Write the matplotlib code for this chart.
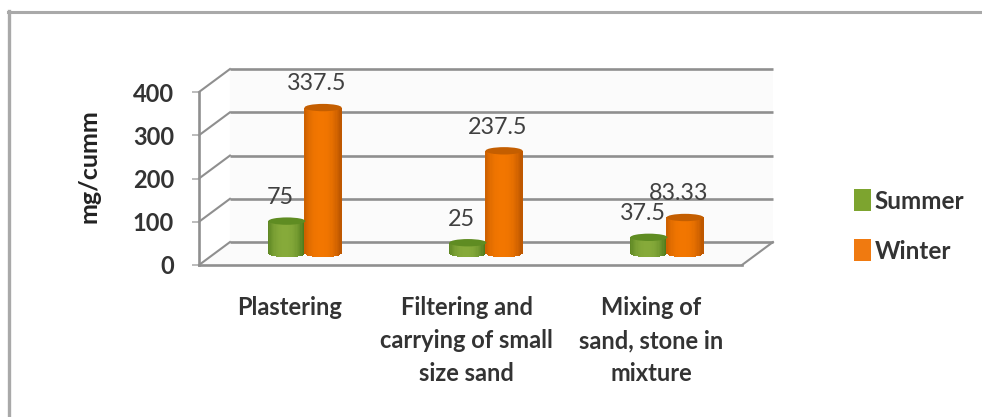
import numpy as np
import matplotlib
matplotlib.use('Agg')
import matplotlib.pyplot as plt
from matplotlib.patches import Ellipse, Polygon, Patch
from matplotlib.lines import Line2D
from matplotlib.colors import to_rgb

plt.rcParams['font.family'] = ['Lato', 'DejaVu Sans']

# values
categories = ['Plastering', 'Filtering and\ncarrying of small\nsize sand', 'Mixing of\nsand, stone in\nmixture']
summer = [75, 25, 37.5]
winter = [337.5, 237.5, 83.33]
summer_labels = ['75', '25', '37.5']
winter_labels = ['337.5', '237.5', '83.33']
y_ticks = [0, 100, 200, 300, 400]

GRID = '#8f8f8f'
TEXT = '#333333'
# depth of the fake 3D box, in data units
DX = 0.171
DY = 53
BAR_W = 0.205
CAP_H = 17
STRIPS = 30


def draw_cylinder(ax, xc, value, edge, mid, cap):
    """Cylinder standing in the middle of the floor, shaded with thin strips"""
    base = DY / 2
    edges = np.linspace(-1, 1, STRIPS + 1)
    for a, b in zip(edges[:-1], edges[1:]):
        t = (a + b) / 2
        # shading: dark at both rims, brightest a bit left of the centre
        k = np.clip(1 - abs(t + 0.1) ** 2.5, 0, 1)
        col = tuple(np.array(to_rgb(edge)) * (1 - k) + np.array(to_rgb(mid)) * k)
        low = base - CAP_H / 2 * np.sqrt(1 - t ** 2)
        ax.bar(xc + t * BAR_W / 2, base + value - low, bottom=low, width=BAR_W / STRIPS * 1.15,
               color=col, linewidth=0, zorder=4, clip_on=False)
    ax.add_patch(Ellipse((xc, base + value), BAR_W, CAP_H, facecolor=cap, edgecolor='none',
                         zorder=5, clip_on=False))


fig = plt.figure(figsize=(9.82, 4.17), dpi=100, facecolor='white')

# outer frame of the picture
fig.add_artist(Line2D([9 / 982, 9 / 982], [0, 1 - 11 / 417], color='#a9a9a9', lw=2.4))
fig.add_artist(Line2D([8 / 982, 1], [1 - 12 / 417, 1 - 12 / 417], color='#a9a9a9', lw=2.2))

ax = fig.add_axes([199 / 982, 1 - 265 / 417, 543 / 982, 173 / 417])
ax.set_xlim(0, 3)
ax.set_ylim(0, 400)
ax.patch.set_visible(False)

# back wall, floor and grid of the 3D box
ax.add_patch(Polygon([(0, 0), (DX, DY), (DX, 400 + DY), (3 + DX, 400 + DY), (3 + DX, DY), (3, 0)],
                     closed=True, facecolor='#fbfbfb', edgecolor='none', zorder=0, clip_on=False))
for t in y_ticks:
    ax.plot([DX, 3 + DX], [t + DY, t + DY], color=GRID, lw=1.9, zorder=1, clip_on=False,
            solid_capstyle='butt')
    ax.plot([0, DX], [t, t + DY], color=GRID, lw=1.5, zorder=1, clip_on=False)
ax.plot([3, 3 + DX], [0, DY], color=GRID, lw=1.5, zorder=1, clip_on=False)

for i in range(len(categories)):
    xs = i + 0.4 + DX / 2
    xw = i + 0.6 + DX / 2
    draw_cylinder(ax, xs, summer[i], '#4f7a1c', '#86aa3a', '#5f8c22')
    draw_cylinder(ax, xw, winter[i], '#bf5800', '#f27600', '#c45e00')
    for x, v, s in [(xs, summer[i], summer_labels[i]), (xw, winter[i], winter_labels[i])]:
        ax.annotate(s, (x, DY / 2 + v), xytext=(-4.5, 17), textcoords='offset points',
                    ha='center', va='center', fontsize=16.8, color='#404040', zorder=6,
                    annotation_clip=False)

for side in ['top', 'right']:
    ax.spines[side].set_visible(False)
for side in ['left', 'bottom']:
    ax.spines[side].set_color(GRID)
    ax.spines[side].set_linewidth(1.9)

ax.set_yticks(y_ticks)
ax.tick_params(axis='y', length=5, width=1.2, color='#b0b0b0', pad=13, labelsize=17, labelcolor=TEXT)
for lab in ax.get_yticklabels():
    lab.set_fontweight('bold')

ax.set_xticks([0.5, 1.48, 2.5])
ax.set_xticklabels(categories, fontsize=17, fontweight='bold', color=TEXT, linespacing=1.55)
ax.tick_params(axis='x', length=0, pad=22)

ax.set_ylabel('mg/cumm', fontsize=18, fontweight='bold', color='#222222')
ax.yaxis.set_label_coords(-0.182, 0.57)

handles = [Patch(facecolor='#7da42f', label='Summer'), Patch(facecolor='#f07a10', label='Winter')]
fig.legend(handles=handles, loc='center left', bbox_to_anchor=(832 / 982, 1 - 226 / 417),
           frameon=False, handlelength=0.7, handleheight=1.0, handletextpad=0.15,
           labelspacing=1.1, labelcolor=TEXT, prop={'weight': 'bold', 'size': 17.5})

fig.savefig('out.png', dpi=100)
